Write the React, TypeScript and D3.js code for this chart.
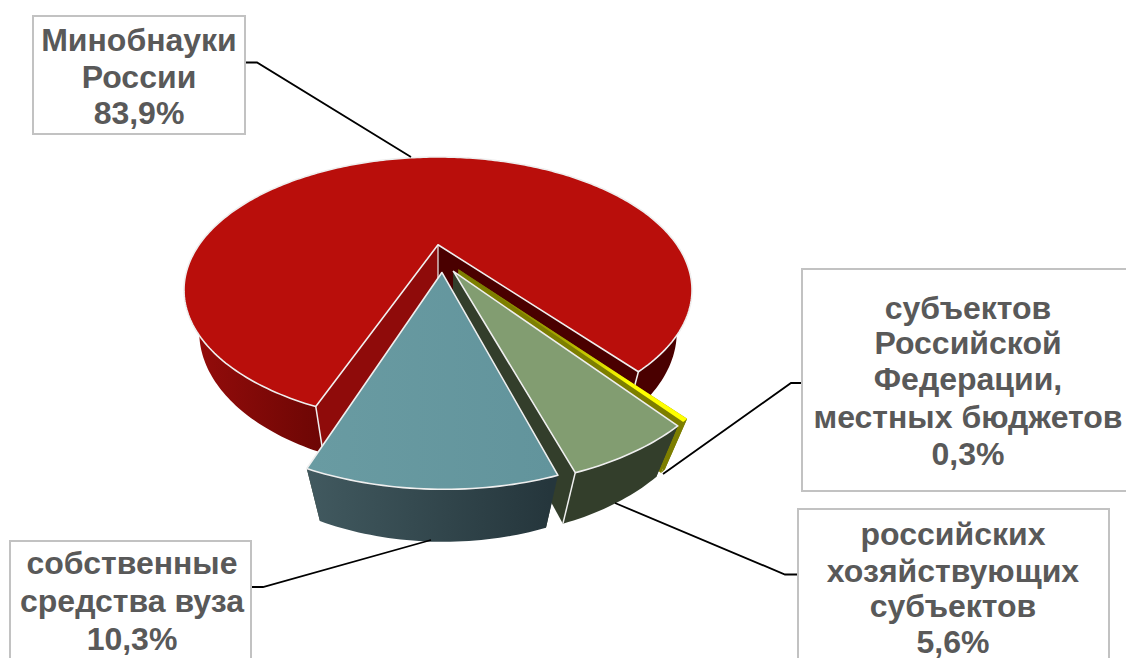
import React from "react";
import * as d3 from "d3";

// ---- data ----
const names = ["Минобнауки России", "субъектов Российской Федерации, местных бюджетов", "российских хозяйствующих субъектов", "собственные средства вуза"];
const values = [83.9, 0.3, 5.6, 10.3];
const valueLabels = ["83,9%", "0,3%", "5,6%", "10,3%"];
const labelLines = [
  ["Минобнауки", "России", "83,9%"],
  ["субъектов", "Российской", "Федерации,", "местных бюджетов", "0,3%"],
  ["российских", "хозяйствующих", "субъектов", "5,6%"],
  ["собственные", "средства вуза", "10,3%"],
];
const topColors = ["#b90e0b", "url(#yellowTop)", "#829d71", "url(#blueTop)"];
const wallColors = ["url(#redWall)", "#7d7e00", "#333e2b", "url(#blueWall)"];
const cutColors = ["#8f0b0a", "#7d7e00", "#333e2b", "#333e2b"];
const explodeX = [0, 0.08, 0.06, 0.015];
const explodeT = [0, 0.195, 0.21, 0.218];
const boxes = [
  { x: 33, y: 16, w: 212, h: 118, cx: 139, base: [51, 88, 124] },
  { x: 802, y: 269, w: 340, h: 222, cx: 968, base: [319, 354, 390, 428, 465] },
  { x: 798, y: 509, w: 311, h: 170, cx: 953, base: [545, 582, 617, 653] },
  { x: 10, y: 541, w: 241, h: 140, cx: 132, base: [574, 612, 650] },
];
const leaders: [number, number][][] = [
  [[245, 62.5], [257, 62.5], [411, 157]],
  [[802, 383], [791, 383], [663, 474]],
  [[798, 574.5], [785, 574.5], [615, 503]],
  [[251, 587], [263, 587], [431, 540]],
];

// ---- projection ----
const W = 1126, H = 658;
const xScale = d3.scaleLinear().domain([-1, 1]).range([184, 692]);
const yScale = d3.scaleLinear().domain([-1, 1]).range([157, 423]);
const persp = -0.34; // where the disc centre lands between the back and the front rim
const rad = (d: number) => (d * Math.PI) / 180;
type P = [number, number];

function project(u: number, t: number): P {
  const den = 1 + persp * t;
  return [xScale((u * Math.sqrt(1 - persp * persp)) / den), yScale((t + persp) / den)];
}
const cxPx = xScale(0);
function lowerRed([x, y]: P): P {
  return [cxPx + (x - cxPx) * 0.94, y * 1.04 + 30.4];
}
function lowerOut(i: number) {
  const h = [0, 51, 51, 52.5][i];
  const k = [0, 0.91, 0.91, 0.9][i];
  return ([x, y]: P): P => [cxPx + (x - cxPx) * k, y + h];
}

const pieGen = d3.pie<number>().sort(null).value((d) => d).startAngle(rad(200.4)).endAngle(rad(200.4 + 360));
const arcs = pieGen(values);
const line = d3.line<P>();

function sliceGeom(i: number) {
  const a = arcs[i];
  const dx = explodeX[i], dt = explodeT[i];
  const pt = (ang: number) => project(Math.sin(ang) + dx, -Math.cos(ang) + dt);
  const apex = project(dx, dt);
  const n = Math.max(2, Math.ceil((a.endAngle - a.startAngle) / rad(1)));
  const rim = d3.range(n + 1).map((j) => pt(a.startAngle + ((a.endAngle - a.startAngle) * j) / n));
  const low = i === 0 ? lowerRed : lowerOut(i);
  return { apex, rim, low };
}

function Slice({ i }: { i: number }) {
  const { apex, rim, low } = sliceGeom(i);
  const first = rim[0], last = rim[rim.length - 1];
  const top = line([apex, ...rim])! + "Z";
  const wall = line([...rim, ...rim.slice().reverse().map(low)])! + "Z";
  const cutStart = line([apex, first, low(first), low(apex)])! + "Z";
  const cutEnd = line([apex, last, low(last), low(apex)])! + "Z";
  const edge = "#efefef";
  return (
    <g>
      {i === 0 ? (
        <>
          <path d={cutEnd} fill="#4a0000" />
          <path d={cutStart} fill={cutColors[0]} />
          <path d={wall} fill={wallColors[0]} />
          <path d={line([apex, low(apex)])!} stroke={edge} strokeWidth={1.2} />
          <path d={line([first, low(first)])!} stroke={edge} strokeWidth={1.5} />
          <path d={line([last, low(last)])!} stroke={edge} strokeWidth={1.5} />
        </>
      ) : (
        <>
          <path d={cutStart} fill={cutColors[i]} />
          <path d={cutEnd} fill={cutColors[i]} />
          <path d={wall} fill={wallColors[i]} />
          {i === 2 && <path d={line([last, low(last)])!} stroke={edge} strokeWidth={1.5} />}
        </>
      )}
      <path d={top} fill={topColors[i]} stroke={i === 1 ? "none" : edge} strokeWidth={1.6} strokeLinejoin="round" />
    </g>
  );
}

export default function App() {
  return (
    <svg width={W} height={H} viewBox={`0 0 ${W} ${H}`} style={{ position: "absolute", left: 0, top: 0, background: "#fff" }}>
      <title>{names.map((n, i) => `${n}: ${valueLabels[i]}`).join("; ")}</title>
      <defs>
        <linearGradient id="redWall" gradientUnits="userSpaceOnUse" x1={190} x2={640} y1={0} y2={0}>
          <stop offset="0" stopColor="#950c0b" />
          <stop offset="0.3" stopColor="#6c0604" />
          <stop offset="0.31" stopColor="#4a0000" />
          <stop offset="1" stopColor="#4a0000" />
        </linearGradient>
        <linearGradient id="blueWall" gradientUnits="userSpaceOnUse" x1={310} x2={550} y1={0} y2={0}>
          <stop offset="0" stopColor="#41595f" />
          <stop offset="1" stopColor="#25363c" />
        </linearGradient>
        <linearGradient id="blueTop" gradientUnits="userSpaceOnUse" x1={310} x2={555} y1={0} y2={0}>
          <stop offset="0" stopColor="#699ba2" />
          <stop offset="1" stopColor="#62949c" />
        </linearGradient>
        <linearGradient id="yellowTop" gradientUnits="userSpaceOnUse" x1={458} y1={270} x2={686} y2={420}>
          <stop offset="0" stopColor="#6f7000" />
          <stop offset="0.45" stopColor="#a5a600" />
          <stop offset="0.75" stopColor="#ffff00" />
          <stop offset="1" stopColor="#ffff00" />
        </linearGradient>
      </defs>

      {[0, 1, 2, 3].map((i) => (
        <Slice key={i} i={i} />
      ))}

      {leaders.map((pts, i) => (
        <path key={i} d={line(pts)!} fill="none" stroke="#000" strokeWidth={1.8} />
      ))}

      {boxes.map((b, i) => (
        <g key={i}>
          <rect x={b.x} y={b.y} width={b.w} height={b.h} fill="#fff" stroke="#c2c2c2" strokeWidth={2} />
          {labelLines[i].map((t, j) => (
            <text
              key={j}
              x={b.cx}
              y={b.base[j]}
              textAnchor="middle"
              fontFamily="'Liberation Sans', Arial, sans-serif"
              fontWeight={700}
              fontSize={32}
              fill="#595959"
            >
              {t}
            </text>
          ))}
        </g>
      ))}
    </svg>
  );
}
